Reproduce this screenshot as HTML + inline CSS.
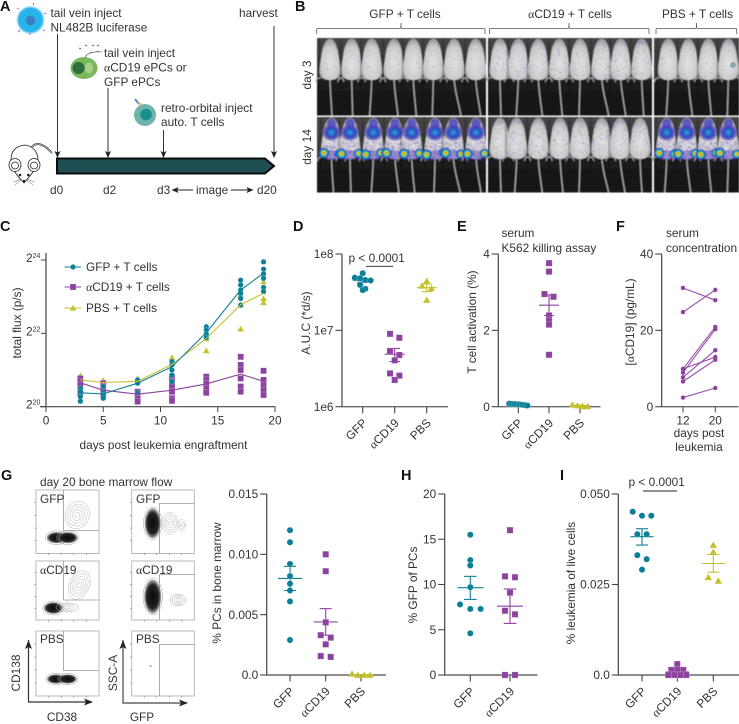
<!DOCTYPE html>
<html lang="en">
<head>
<meta charset="utf-8">
<title>Figure</title>
<style>
html,body{margin:0;padding:0;background:#fff;}
svg{display:block;}
text{font-family:"Liberation Sans","DejaVu Sans",sans-serif;font-size:11.85px;fill:#333;}
.pl{font-size:14.5px;font-weight:bold;fill:#111;}
.al{font-family:"Liberation Serif",serif;}
</style>
</head>
<body>
<svg id="fig" xmlns="http://www.w3.org/2000/svg" width="739" height="724" viewBox="0 0 739 724">
<defs>
<marker id="ah" markerWidth="7" markerHeight="7" refX="6" refY="3" orient="auto" markerUnits="userSpaceOnUse"><path d="M0,0 L7,3 L0,6 L1.5,3 Z" fill="#222"/></marker>
<radialGradient id="cellBlue"><stop offset="0" stop-color="#27b4ea"/><stop offset=".8" stop-color="#27b4ea"/><stop offset="1" stop-color="#27b4ea" stop-opacity="0"/></radialGradient>
<linearGradient id="bgRow" x1="0" y1="0" x2="0" y2="1"><stop offset="0" stop-color="#454545"/><stop offset=".52" stop-color="#363636"/><stop offset=".56" stop-color="#1c1c1c"/><stop offset="1" stop-color="#141414"/></linearGradient>
<radialGradient id="mouseFill" cx=".5" cy=".6" r=".65"><stop offset="0" stop-color="#e2e2e2"/><stop offset=".65" stop-color="#cbcbcb"/><stop offset="1" stop-color="#858585"/></radialGradient>
<radialGradient id="hot"><stop offset="0" stop-color="#e02020"/><stop offset=".18" stop-color="#e8b020"/><stop offset=".32" stop-color="#d8d820"/><stop offset=".48" stop-color="#35c878"/><stop offset=".64" stop-color="#1f8fd8"/><stop offset=".86" stop-color="#2a3fb8"/><stop offset="1" stop-color="#3a35b0" stop-opacity="0"/></radialGradient>
<radialGradient id="lung"><stop offset="0" stop-color="#33b4e0"/><stop offset=".22" stop-color="#2a78d0"/><stop offset=".6" stop-color="#3346b8"/><stop offset="1" stop-color="#6a50c0" stop-opacity=".5"/></radialGradient>
<radialGradient id="flowDark"><stop offset="0" stop-color="#0a0a0a"/><stop offset=".7" stop-color="#222"/><stop offset="1" stop-color="#888" stop-opacity=".7"/></radialGradient>
<filter id="soft" x="-2%" y="-2%" width="104%" height="104%"><feGaussianBlur stdDeviation=".5"/></filter>
</defs>

<!-- panel letters -->
<text class="pl" x="0" y="11">A</text>
<text class="pl" x="295" y="11">B</text>
<text class="pl" x="0" y="231">C</text>
<text class="pl" x="293" y="231">D</text>
<text class="pl" x="457" y="231">E</text>
<text class="pl" x="616" y="231">F</text>
<text class="pl" x="1" y="480">G</text>
<text class="pl" x="401" y="480">H</text>
<text class="pl" x="560" y="480">I</text>

<!-- Panel A -->
<g>
  <g>
    <circle cx="30.5" cy="20" r="14.5" fill="url(#cellBlue)"/>
    <circle cx="30.5" cy="20.5" r="4.8" fill="#3b80c4"/>
    <path d="M19,9l-2,-1M33,5l1,-2M44,14l2,-1M43,30l2,1M20,30l-2,2M30,33l0,2" stroke="#8a63b8" stroke-width=".9"/>
  </g>
  <text x="50.5" y="17">tail vein inject</text>
  <text x="50.5" y="31.5">NL482B luciferase</text>
  <text x="239" y="17">harvest</text>
  <g>
    <ellipse cx="84" cy="68" rx="13.5" ry="11" fill="#7ab65c"/>
    <circle cx="78.5" cy="68" r="6" fill="#2f6d3a"/>
    <ellipse cx="89" cy="68" rx="4" ry="5.5" fill="#a9d08b"/>
    <path d="M85,57c3,-4 8,-6 17,-5" fill="none" stroke="#333" stroke-width=".6"/>
    <path d="M79,48l2,1M85,46l2,-1M92,45l2,1M97,46l2,-1M90,53l2,-1M97,51l2,1" stroke="#6d62bd" stroke-width="1"/>
  </g>
  <text x="104" y="57">tail vein inject</text>
  <text x="104" y="71.5"><tspan class="al">α</tspan>CD19 ePCs or</text>
  <text x="104" y="86">GFP ePCs</text>
  <g>
    <circle cx="145" cy="115" r="11" fill="#6eb4ab"/>
    <circle cx="146" cy="114.5" r="5.8" fill="#1d8e8e"/>
    <path d="M135,99l4,5" stroke="#5b8fbd" stroke-width="2"/>
    <circle cx="140" cy="104" r="1.5" fill="#d8c66a"/>
  </g>
  <text x="161" y="112">retro-orbital inject</text>
  <text x="161" y="126">auto. T cells</text>
  <g stroke="#333" stroke-width="1" fill="none">
    <path d="M57.5,34V157" marker-end="url(#ah)"/>
    <path d="M108,88V157" marker-end="url(#ah)"/>
    <path d="M163.5,130V157" marker-end="url(#ah)"/>
    <path d="M274,26V157" marker-end="url(#ah)"/>
  </g>
  <path d="M57,158.5H265L274,166L265,173.5H57Z" fill="#1f4e52" stroke="#0d0d0d" stroke-width="2"/>
  <g stroke="#222" stroke-width=".8" fill="#fff">
    <path d="M32,147C37,141 45,145 52,153" fill="none" stroke-width="1.8"/>
    <path d="M32,147C37,141 45,145 52,153" fill="none" stroke="#fff" stroke-width=".6"/>
    <path d="M25,145C15,146 11,152 11,160C12,172 20,178 24,183C28,178 35,172 38,160C38,152 33,146 25,145Z"/>
    <ellipse cx="15" cy="165" rx="6" ry="6.5"/><ellipse cx="34" cy="165" rx="6" ry="6.5"/>
    <ellipse cx="15" cy="165.5" rx="3.5" ry="3.5"/><ellipse cx="34" cy="165.5" rx="3.5" ry="3.5"/>
    <circle cx="20" cy="175" r=".9" fill="#111"/><circle cx="28.3" cy="175" r=".9" fill="#111"/><circle cx="24" cy="181" r=".9" fill="#111"/>
    <path d="M21,179l-7,3M21,180l-6,5M27,179l7,3M27,180l6,5" fill="none" stroke-width=".4"/>
  </g>
  <text x="50" y="194">d0</text>
  <text x="103" y="194">d2</text>
  <text x="157" y="194">d3</text>
  <text x="196" y="194">image</text>
  <text x="257" y="194">d20</text>
  <path d="M193,190H172.5" stroke="#222" fill="none" marker-end="url(#ah)"/>
  <path d="M231,190H252.5" stroke="#222" fill="none" marker-end="url(#ah)"/>
</g>

<!-- Panel B headers -->
<g>
  <text x="405" y="18" text-anchor="middle">GFP + T cells</text>
  <text x="570" y="18" text-anchor="middle"><tspan class="al">α</tspan>CD19 + T cells</text>
  <text x="697.5" y="18" text-anchor="middle">PBS + T cells</text>
  <g fill="none" stroke="#555" stroke-width=".8">
    <path d="M316.7,34V29.5Q316.7,28.5 318,28.5H400Q401,28.5 401,23Q401,28.5 402,28.5H483.5Q485,28.5 485,29.5V34"/>
    <path d="M489.5,34V29.5Q489.5,28.5 491,28.5H568Q569,28.5 569,23Q569,28.5 570,28.5H648Q649,28.5 649,29.5V34"/>
    <path d="M656,34V29.5Q656,28.5 657,28.5H695.5Q696.5,28.5 696.5,23Q696.5,28.5 697.5,28.5H735.5Q736.7,28.5 736.7,29.5V34"/>
  </g>
  <text transform="translate(311,75) rotate(-90)" text-anchor="middle">day 3</text>
  <text transform="translate(311,147) rotate(-90)" text-anchor="middle">day 14</text>
</g>
<g id="photos"></g>

<!-- Panel C static -->
<g id="panelC">
  <text transform="translate(21,323) rotate(-90)" text-anchor="middle">total flux (p/s)</text>
  <text x="163.5" y="449" text-anchor="middle">days post leukemia engraftment</text>
</g>
<g id="panelD">
  <text transform="translate(310,323) rotate(-90)" text-anchor="middle">A.U.C (*d/s)</text>
  <text x="376.7" y="262" text-anchor="middle">p &lt; 0.0001</text>
  <line x1="366" x2="393" y1="266.3" y2="266.3" stroke="#222" stroke-width=".9"/>
</g>
<g id="panelE">
  <text transform="translate(476,322) rotate(-90)" text-anchor="middle">T cell activation (%)</text>
  <text x="501.5" y="237">serum</text>
  <text x="501.5" y="252">K562 killing assay</text>
</g>
<g id="panelF">
  <text transform="translate(634,322) rotate(-90)" text-anchor="middle">[<tspan class="al">α</tspan>CD19] (pg/mL)</text>
  <text x="666" y="237">serum</text>
  <text x="666" y="252">concentration</text>
  <text x="699" y="437" text-anchor="middle">days post</text>
  <text x="699" y="451" text-anchor="middle">leukemia</text>
</g>

<!-- Panel G flow -->
<g id="flow">
  <text x="40" y="486">day 20 bone marrow flow</text>
  <path d="M28.5,640V702H92" fill="none" stroke="#333" stroke-width="1.2"/>
  <path d="M28.5,640l-3.5,9l3.5,-2l3.5,2ZM93,702l-9,-3.5l2,3.5l-2,3.5Z" fill="#222"/>
  <path d="M123,640V703H187" fill="none" stroke="#444" stroke-width="1.2"/>
  <path d="M123,640l-3.5,9l3.5,-2l3.5,2ZM188,703l-9,-3.5l2,3.5l-2,3.5Z" fill="#222"/>
  <text transform="translate(20,673) rotate(-90)" text-anchor="middle">CD138</text>
  <text transform="translate(117,673) rotate(-90)" text-anchor="middle">SSC-A</text>
  <text x="62" y="721" text-anchor="middle">CD38</text>
  <text x="142" y="721" text-anchor="middle">GFP</text>
</g>
<g id="panelG">
  <text transform="translate(221,583) rotate(-90)" text-anchor="middle">% PCs in bone marrow</text>
</g>
<g id="panelH">
  <text transform="translate(417,585) rotate(-90)" text-anchor="middle">% GFP of PCs</text>
</g>
<g id="panelI">
  <text transform="translate(575,583) rotate(-90)" text-anchor="middle">% leukemia of live cells</text>
  <text x="656.7" y="486" text-anchor="middle">p &lt; 0.0001</text>
  <line x1="643" x2="677" y1="491" y2="491" stroke="#222" stroke-width=".9"/>
</g>
<g id="flowLabels">
  <text x="40" y="503">GFP</text>
  <text x="136" y="503">GFP</text>
  <text x="40" y="574"><tspan class="al">α</tspan>CD19</text>
  <text x="136" y="574"><tspan class="al">α</tspan>CD19</text>
  <text x="40" y="643">PBS</text>
  <text x="136" y="643">PBS</text>
</g>
</svg>

<script>
/* ===== Chart data ===== */
const dotCategories = ['GFP', 'αCD19', 'PBS'];

/* C: log2 total flux */
const cDays = [3, 5, 8, 11, 14, 17, 19];
const cXTicks = [0, 5, 10, 15, 20];
const cYTicks = [20, 22, 24];
const cGfpMean = [20.38, 20.35, 20.64, 21.09, 22.02, 23.18, 23.64];
const cCd19Mean = [20.65, 20.45, 20.34, 20.45, 20.62, 20.89, 20.69];
const cPbsMean = [20.73, 20.66, 20.69, 21.15, 21.86, 22.78, 23.09];
const cGfpPoints = [[20.5,20.41,20.27,20.15],[20.55,20.41,20.32,20.23],[20.73,20.64,20.38],[21.23,21.14,21.0,20.86,20.68],[22.18,22.09,21.98,21.88],[23.45,23.32,23.18,23.09,22.95,22.77],[23.95,23.75,23.62,23.5,23.25,23.14]];
const cCd19Points = [[20.77,20.68,20.59,20.45,20.38],[20.64,20.55,20.41,20.32],[20.41,20.32,20.23,20.14],[20.82,20.68,20.55,20.41,20.23,20.16],[20.82,20.73,20.64,20.5,20.38],[21.36,21.14,21.0,20.77,20.55,20.41],[20.98,20.73,20.59,20.45,20.32]];
const cPbsPoints = [[20.85],[20.72],[20.77],[21.34],[21.86,21.53],[23.05,22.77,22.12],[23.41,22.95,22.84]];

/* D: A.U.C */
const dTicks = [1e6, 1e7, 1e8];
const dTickLabels = ['1e6', '1e7', '1e8'];
const dGfp = [5.6e7, 4.9e7, 4.8e7, 4.57e7, 4.5e7, 3.93e7, 3.5e7, 3.37e7];
const dCd19 = [9.0e6, 8.0e6, 5.36e6, 4.75e6, 4.05e6, 2.73e6, 2.55e6, 2.24e6];
const dPbs = [4.43e7, 3.84e7, 3.55e7, 2.5e7];
const dMeans = [4.48e7, 4.85e6, 3.62e7];
const dLow = [4.26e7, 3.9e6, 3.21e7];
const dHigh = [4.71e7, 5.8e6, 4.05e7];

/* E: T cell activation */
const eTicks = [0, 2, 4];
const eGfp = [0.08, 0.07, 0.07, 0.06, 0.06, 0.05, 0.04, 0.03];
const eCd19 = [3.76, 3.54, 2.95, 2.88, 2.39, 2.25, 2.15, 1.36];
const ePbs = [0.05, 0.03, 0.01, 0.01];
const eMeans = [0.055, 2.66, 0.03];
const eLow = [0.045, 2.39, 0.015];
const eHigh = [0.065, 2.93, 0.045];

/* F: paired concentration */
const fTicks = [0, 20, 40];
const fDays = ['12', '20'];
const fDay12 = [31.1, 24.8, 9.9, 8.9, 9.9, 7.7, 6.6, 2.4];
const fDay20 = [27.9, 30.6, 20.9, 20.3, 13.0, 14.8, 12.3, 4.9];

/* G: % PCs */
const gTicks = [0, 0.005, 0.010, 0.015];
const gTickLabels = ['0.0', '0.005', '0.010', '0.015'];
const gGfp = [0.012, 0.011, 0.0092, 0.0082, 0.00757, 0.007, 0.0061, 0.0029];
const gCd19 = [0.01, 0.0086, 0.00436, 0.0033, 0.0031, 0.00254, 0.00157, 0.0015];
const gPbs = [0.0001, 0, 0, 0];
const gMeans = [0.008, 0.0044, 0];
const gLow = [0.007, 0.0033, 0];
const gHigh = [0.009, 0.0055, 0];

/* H: % GFP of PCs */
const hTicks = [0, 5, 10, 15, 20];
const hGfp = [15.5, 12.7, 12.1, 9.7, 7.8, 7.3, 7.3, 4.6];
const hCd19 = [16, 10.9, 10.8, 9.1, 7.1, 6.7, 0, 0];
const hMeans = [9.65, 7.6];
const hLow = [8.35, 5.7];
const hHigh = [10.9, 9.5];

/* I: % leukemia */
const iTicks = [0, 0.025, 0.05];
const iTickLabels = ['0.0', '0.025', '0.050'];
const iGfp = [0.0451, 0.044, 0.044, 0.0389, 0.0389, 0.0331, 0.032, 0.0291];
const iCd19 = [0.003, 0.0014, 0.0014, 0.0014, 0, 0, 0, 0];
const iPbs = [0.0359, 0.034, 0.027, 0.026];
const iMeans = [0.0382, 0.0009, 0.0308];
const iLow = [0.0359, 0.0004, 0.0284];
const iHigh = [0.0404, 0.0014, 0.0333];

/* ===== Helpers ===== */
const NS = 'http://www.w3.org/2000/svg';
const TEAL = '#0b7f97', PURPLE = '#8e42a0', OLIVE = '#c3c12e';
const AXIS = '#6a6a6a';

function mk(parent, tag, attrs, name) {
  const el = document.createElementNS(NS, tag);
  for (const k in attrs) el.setAttribute(k, attrs[k]);
  
  
  parent.appendChild(el);
  return el;
}
function setLabel(node, label) {
  if (label.charAt(0) === 'α') {
    const t = document.createElementNS(NS, 'tspan');
    t.setAttribute('class', 'al');
    t.textContent = 'α';
    node.appendChild(t);
    node.appendChild(document.createTextNode(label.slice(1)));
  } else node.textContent = label;
}
const linear = (d0, d1, r0, r1) => v => r0 + (v - d0) / (d1 - d0) * (r1 - r0);
const log10Scale = (d0, d1, r0, r1) => v => r0 + (Math.log10(v) - Math.log10(d0)) / (Math.log10(d1) - Math.log10(d0)) * (r1 - r0);

function marker(g, shape, x, y, s, color, name) {
  if (shape === 'circle') return mk(g, 'circle', {cx: x, cy: y, r: s, fill: color, stroke: '#fff', 'stroke-opacity': .4, 'stroke-width': .5}, name);
  if (shape === 'square') return mk(g, 'rect', {x: x - s, y: y - s, width: 2 * s, height: 2 * s, fill: color, stroke: '#fff', 'stroke-opacity': .4, 'stroke-width': .5}, name);
  const p = [[x, y - s * 1.1], [x + s * 1.15, y + s * .9], [x - s * 1.15, y + s * .9]].map(a => a.join(',')).join(' ');
  return mk(g, 'polygon', {points: p, fill: color}, name);
}

/* swarm: sort by pixel value, bin, spread horizontally around the category */
function swarm(values, yScale, bin, step) {
  const pts = values.map(v => yScale(v)).sort((a, b) => a - b);
  const out = [];
  let i = 0;
  while (i < pts.length) {
    let j = i;
    while (j < pts.length && pts[j] - pts[i] < bin) j++;
    const n = j - i;
    for (let k = 0; k < n; k++) out.push({y: pts[i + k], dx: (k - (n - 1) / 2) * step});
    i = j;
  }
  return out;
}

function axes(g, cfg) {
  mk(g, 'line', {x1: cfg.x0, x2: cfg.x0, y1: cfg.yTop, y2: cfg.yBase, stroke: '#444', 'stroke-width': 1.2}, 'y-axis-line');
  mk(g, 'line', {x1: cfg.x0 - .5, x2: cfg.x1, y1: cfg.yBase, y2: cfg.yBase, stroke: AXIS, 'stroke-width': 1.4}, 'x-axis-line');
  cfg.yTicks.forEach((t, i) => {
    const y = cfg.yScale(t);
    mk(g, 'line', {x1: cfg.x0 - 6.5, x2: cfg.x0, y1: y, y2: y, stroke: '#444', 'stroke-width': 1.1}, 'y-tick');
    const lab = mk(g, 'text', {x: cfg.x0 - 8.5, y: y + 4.2, 'text-anchor': 'end'}, 'y-tick-label');
    lab.textContent = cfg.yLabels ? cfg.yLabels[i] : String(t);
  });
}
function catTicks(g, cfg) {
  cfg.cats.forEach((c, i) => {
    const x = cfg.catX[i];
    mk(g, 'line', {x1: x, x2: x, y1: cfg.yBase, y2: cfg.yBase + 6.5, stroke: '#444', 'stroke-width': 1.1}, 'x-tick');
    const lab = mk(g, 'text', {x: x + 5, y: cfg.yBase + 17, 'text-anchor': 'end', transform: 'rotate(-45 ' + (x + 5) + ' ' + (cfg.yBase + 17) + ')'}, 'x-tick-label');
    setLabel(lab, c);
  });
}
function errorBar(g, x, yMean, yLo, yHi, color, hm, hc) {
  mk(g, 'line', {x1: x, x2: x, y1: yHi, y2: yLo, stroke: color, 'stroke-width': 1.1}, 'error-bar');
  mk(g, 'line', {x1: x - hc, x2: x + hc, y1: yHi, y2: yHi, stroke: color, 'stroke-width': 1.1}, 'error-cap-high');
  mk(g, 'line', {x1: x - hc, x2: x + hc, y1: yLo, y2: yLo, stroke: color, 'stroke-width': 1.1}, 'error-cap-low');
  mk(g, 'line', {x1: x - hm, x2: x + hm, y1: yMean, y2: yMean, stroke: color, 'stroke-width': 1.1}, 'mean-line');
}
const SERIES_STYLE = [{shape: 'circle', color: TEAL, size: 3.1}, {shape: 'square', color: PURPLE, size: 3.1}, {shape: 'triangle', color: OLIVE, size: 3.2}];

function dotPanel(g, cfg) {
  axes(g, cfg);
  catTicks(g, cfg);
  cfg.series.forEach((vals, i) => {
    const st = SERIES_STYLE[i];
    const x = cfg.catX[i];
    errorBar(g, x, cfg.yScale(cfg.means[i]), cfg.yScale(cfg.low[i]), cfg.yScale(cfg.high[i]), st.color, cfg.meanHalf, cfg.capHalf);
    swarm(vals, cfg.yScale, cfg.bins[i], cfg.steps[i]).forEach(p => {
      marker(g, st.shape, x + p.dx, p.y, st.size, st.color, 'point-' + cfg.cats[i].replace('α', 'a').toLowerCase());
    });
  });
}

/* ===== Panel C ===== */
(function () {
  const g = document.getElementById('panelC');
  const x = linear(0, 20, 46, 275), y = linear(20, 24, 406.7, 260);
  mk(g, 'line', {x1: 46, x2: 46, y1: 253, y2: 407, stroke: '#444', 'stroke-width': 1.2}, 'y-axis-line');
  mk(g, 'line', {x1: 40, x2: 275.5, y1: 406.7, y2: 406.7, stroke: '#444', 'stroke-width': 1.2}, 'x-axis-line');
  cXTicks.forEach(t => {
    mk(g, 'line', {x1: x(t), x2: x(t), y1: 406.7, y2: 412, stroke: '#444', 'stroke-width': 1}, 'x-tick');
    const l = mk(g, 'text', {x: x(t), y: 424.5, 'text-anchor': 'middle'}, 'x-tick-label');
    l.textContent = t;
  });
  cYTicks.forEach(t => {
    mk(g, 'line', {x1: 41, x2: 46, y1: y(t), y2: y(t), stroke: '#444', 'stroke-width': 1}, 'y-tick');
    const l = mk(g, 'text', {x: 26, y: y(t) + 2, 'text-anchor': 'start'}, 'y-tick-label');
    l.appendChild(document.createTextNode('2'));
    const s = document.createElementNS(NS, 'tspan');
    s.setAttribute('dy', '-4');
    s.style.fontSize = '7px';
    s.textContent = t;
    l.appendChild(s);
  });
  const sets = [
    {name: 'pbs', mean: cPbsMean, pts: cPbsPoints, c: OLIVE, shape: 'triangle', size: 2.9},
    {name: 'cd19', mean: cCd19Mean, pts: cCd19Points, c: PURPLE, shape: 'square', size: 3},
    {name: 'gfp', mean: cGfpMean, pts: cGfpPoints, c: TEAL, shape: 'circle', size: 2.7}
  ];
  sets.forEach(s => {
    const sg = mk(g, 'g', {}, 'series-' + s.name);
    s.pts.forEach((col, i) => col.forEach(v => marker(sg, s.shape, x(cDays[i]), y(v), s.size, s.c, 'point-' + s.name)));
  });
  sets.forEach(s => {
    mk(g, 'polyline', {points: s.mean.map((v, i) => x(cDays[i]) + ',' + y(v)).join(' '), fill: 'none', stroke: s.c, 'stroke-width': 1.1}, 'mean-line-' + s.name);
  });
  const legend = [
    {label: 'GFP + T cells', c: TEAL, shape: 'circle', yy: 267, size: 2.7},
    {label: 'αCD19 + T cells', c: PURPLE, shape: 'square', yy: 287, size: 3},
    {label: 'PBS + T cells', c: OLIVE, shape: 'triangle', yy: 308, size: 2.9}
  ];
  legend.forEach(e => {
    const lg = mk(g, 'g', {}, 'legend-entry');
    mk(lg, 'line', {x1: 64.5, x2: 81, y1: e.yy, y2: e.yy, stroke: e.c, 'stroke-width': 1.1}, 'legend-line');
    marker(lg, e.shape, 73, e.yy, e.size, e.c, 'legend-marker');
    const t = mk(lg, 'text', {x: 86, y: e.yy + 4}, 'legend-label');
    setLabel(t, e.label);
  });
})();

/* ===== Panels D, E, G, H, I ===== */
dotPanel(document.getElementById('panelD'), {
  x0: 342, x1: 448, yTop: 254, yBase: 406.7, yScale: log10Scale(1e6, 1e8, 406.7, 254),
  yTicks: dTicks, yLabels: dTickLabels, cats: dotCategories, catX: [362.7, 394.7, 426.7],
  series: [dGfp, dCd19, dPbs], means: dMeans, low: dLow, high: dHigh,
  bins: [4.2, 4.2, 3.2], steps: [5.3, 9.3, 9.3], meanHalf: 10, capHalf: 5.3
});
dotPanel(document.getElementById('panelE'), {
  x0: 498.3, x1: 600.5, yTop: 254, yBase: 406.7, yScale: linear(0, 4, 406.7, 254),
  yTicks: eTicks, cats: dotCategories, catX: [518.3, 549, 580],
  series: [eGfp, eCd19, ePbs], means: eMeans, low: eLow, high: eHigh,
  bins: [5, 3.6, 5], steps: [2.6, 9, 5], meanHalf: 10, capHalf: 5
});
dotPanel(document.getElementById('panelG'), {
  x0: 266.7, x1: 386, yTop: 494, yBase: 675, yScale: linear(0, 0.015, 675, 494),
  yTicks: gTicks, yLabels: gTickLabels, cats: dotCategories, catX: [290, 325.7, 361],
  series: [gGfp, gCd19, gPbs], means: gMeans, low: gLow, high: gHigh,
  bins: [2, 2.5, 3], steps: [10, 10, 6], meanHalf: 12, capHalf: 6
});
dotPanel(document.getElementById('panelH'), {
  x0: 444.7, x1: 537.5, yTop: 494, yBase: 675, yScale: linear(0, 20, 675, 494),
  yTicks: hTicks, cats: dotCategories.slice(0, 2), catX: [470.3, 510],
  series: [hGfp, hCd19], means: hMeans, low: hLow, high: hHigh,
  bins: [5, 5], steps: [10.3, 10], meanHalf: 13, capHalf: 6.3
});
dotPanel(document.getElementById('panelI'), {
  x0: 618.3, x1: 739, yTop: 494, yBase: 675, yScale: linear(0, 0.05, 675, 494),
  yTicks: iTicks, yLabels: iTickLabels, cats: dotCategories, catX: [642, 677.3, 713.3],
  series: [iGfp, iCd19, iPbs], means: iMeans, low: iLow, high: iHigh,
  bins: [4.5, 2, 4.5], steps: [9.3, 6, 10], meanHalf: 11.5, capHalf: 6
});

/* ===== Panel F ===== */
(function () {
  const g = document.getElementById('panelF');
  const y = linear(0, 40, 406.7, 254);
  const xs = [683, 715.3];
  axes(g, {x0: 661.7, x1: 738.5, yTop: 254, yBase: 406.7, yScale: y, yTicks: fTicks});
  fDays.forEach((d, i) => {
    mk(g, 'line', {x1: xs[i], x2: xs[i], y1: 406.7, y2: 412.5, stroke: '#444', 'stroke-width': 1}, 'x-tick');
    const l = mk(g, 'text', {x: xs[i], y: 424.5, 'text-anchor': 'middle'}, 'x-tick-label');
    l.textContent = d;
  });
  fDay12.forEach((v, i) => {
    const pair = mk(g, 'g', {}, 'paired-mouse');
    mk(pair, 'line', {x1: xs[0], x2: xs[1], y1: y(v), y2: y(fDay20[i]), stroke: '#9a50ae', 'stroke-width': 1.1}, 'pair-line');
    mk(pair, 'circle', {cx: xs[0], cy: y(v), r: 2.2, fill: PURPLE}, 'point-day-12');
    mk(pair, 'circle', {cx: xs[1], cy: y(fDay20[i]), r: 2.2, fill: PURPLE}, 'point-day-20');
  });
})();

/* ===== Panel B: mouse images (photographic texture, not chart data) ===== */
(function () {
  const root = document.getElementById('photos');
  root.setAttribute('filter', 'url(#soft)');
  const panels = [[317, 486], [488, 652], [654, 739]];
  const rows = [[38, 115.5, 0], [117, 192.5, 1]];
  const xsDay3 = [[330, 351.7, 371.7, 394, 413.3, 433.3, 454, 475.7], [500, 518.3, 538.3, 559.3, 580, 601.7, 620.7, 641.7], [668.3, 688.3, 708.3, 728.3]];
  const xsDay14 = [[331.5, 350, 373.3, 395, 411.7, 435, 453.3, 476], [500, 516.7, 538.3, 560, 580, 601.7, 620, 640], [666.7, 686.7, 708.3, 728.3]];
  const tailDrift = [2, 1, -2, 4, 3, -1, 7, 5];
  let seed = 12345;
  const rnd = () => (seed = (seed * 1103515245 + 12345) & 0x7fffffff) / 0x7fffffff;
  const speck = (cx, top, n, y0, y1, sz) => {
    let d = '';
    for (let i = 0; i < n; i++) {
      const yy = top + y0 + rnd() * (y1 - y0);
      const prog = (yy - top) / 42;
      const w = Math.min(4.5 + prog * 20, 9.5);
      const xx = cx + (rnd() * 2 - 1) * w;
      d += 'M' + xx.toFixed(1) + ',' + yy.toFixed(1) + 'h' + sz + 'v' + sz + 'h-' + sz + 'z';
    }
    return d;
  };
  rows.forEach((row, ri) => {
    const rowG = mk(root, 'g', {}, ri === 0 ? 'image-row-day-3' : 'image-row-day-14');
    panels.forEach((p, pi) => {
      const pg = mk(rowG, 'g', {}, 'image-panel');
      mk(pg, 'rect', {x: p[0], y: row[0], width: p[1] - p[0], height: row[1] - row[0], fill: 'url(#bgRow)'}, 'image-background');
      const xs = (ri === 0 ? xsDay3 : xsDay14)[pi];
      xs.forEach((cx, mi) => {
        const top = row[0] + 1;
        const m = mk(pg, 'g', {}, 'mouse-image');
        mk(m, 'rect', {x: cx - 11.5, y: row[0], width: 1.5, height: row[1] - row[0], fill: '#111', opacity: .3}, 'image-seam');
        const dr = tailDrift[(mi + pi) % 8];
        mk(m, 'path', {d: 'M' + cx + ',' + (top + 40) + 'C' + (cx + dr * .2) + ',' + (top + 55) + ' ' + (cx + dr * .6) + ',' + (top + 62) + ' ' + (cx + dr) + ',' + row[1], fill: 'none', stroke: '#a5a5a5', 'stroke-width': 1.4}, 'mouse-tail');
        mk(m, 'path', {d: 'M' + (cx - 8) + ',' + (top + 38) + 'l-5,2l-1,3M' + (cx + 8) + ',' + (top + 38) + 'l5,2l1,3', fill: 'none', stroke: '#9b9b9b', 'stroke-width': 1.2}, 'mouse-feet');
        const body = 'M' + (cx - 4) + ',' + (top + 2) + 'C' + (cx - 2) + ',' + (top - 1) + ' ' + (cx + 2) + ',' + (top - 1) + ' ' + (cx + 4) + ',' + (top + 2)
          + 'C' + (cx + 6.5) + ',' + (top + 6) + ' ' + (cx + 7.8) + ',' + (top + 10) + ' ' + (cx + 8.3) + ',' + (top + 15)
          + 'C' + (cx + 9.2) + ',' + (top + 22) + ' ' + (cx + 10.5) + ',' + (top + 27) + ' ' + (cx + 10.5) + ',' + (top + 33)
          + 'C' + (cx + 10.5) + ',' + (top + 38) + ' ' + (cx + 6) + ',' + (top + 41) + ' ' + cx + ',' + (top + 41)
          + 'C' + (cx - 6) + ',' + (top + 41) + ' ' + (cx - 10.5) + ',' + (top + 38) + ' ' + (cx - 10.5) + ',' + (top + 33)
          + 'C' + (cx - 10.5) + ',' + (top + 27) + ' ' + (cx - 9.2) + ',' + (top + 22) + ' ' + (cx - 8.3) + ',' + (top + 15)
          + 'C' + (cx - 7.8) + ',' + (top + 10) + ' ' + (cx - 6.5) + ',' + (top + 6) + ' ' + (cx - 4) + ',' + (top + 2) + 'Z';
        mk(m, 'path', {d: body, fill: 'url(#mouseFill)'}, 'mouse-body');
        const heat = ri === 1 && pi !== 1;
        if (heat) {
          mk(m, 'ellipse', {cx: cx, cy: top + 6, rx: 4.6, ry: 5.5, fill: '#5148bd', opacity: .85}, 'signal-head');
          mk(m, 'ellipse', {cx: cx, cy: top + 14.5, rx: 9.2, ry: 8.4, fill: 'url(#lung)'}, 'signal-chest');
          mk(m, 'path', {d: speck(cx, top, 55, 23, 33, .9), fill: '#6a55c4', opacity: .8}, 'signal-speckle');
          mk(m, 'ellipse', {cx: cx, cy: top + 37, rx: 8.6, ry: 4.8, fill: '#6a52c2', opacity: .55}, 'signal-pelvis');
          mk(m, 'path', {d: speck(cx, top, 35, 32, 42, .9), fill: '#4a3db5', opacity: .85}, 'signal-pelvis-speckle');
          const sp = 7.5 + (mi % 2);
          mk(m, 'circle', {cx: cx - sp, cy: top + 35 + (mi % 3) * .8, r: 5.6, fill: 'url(#hot)'}, 'signal-left-leg');
          mk(m, 'circle', {cx: cx + sp, cy: top + 36 - (mi % 3) * .6, r: 5, fill: 'url(#hot)'}, 'signal-right-leg');
        } else {
          const n = ri === 1 ? 55 : (pi === 1 ? 38 : 12);
          mk(m, 'path', {d: speck(cx, top, n, 1, 40, .8), fill: '#5f54c8', opacity: .8}, 'signal-speckle');
        }
      });
    });
  });
  mk(root, 'circle', {cx: 733, cy: 65, r: 2.6, fill: 'url(#hot)'}, 'pbs-day-3-signal');
})();

/* ===== Panel G flow frames (schematic contours) ===== */
(function () {
  const g = document.getElementById('flow');
  const frames = [
    {x: 36, y: 490, w: 63, h: 63.5, gate: 'M63.5,490V530.5H99'},
    {x: 131.7, y: 490, w: 62.6, h: 63.5, gate: 'M159.5,553.5V503.5H194.3'},
    {x: 36, y: 561, w: 63, h: 59, gate: 'M63.5,561V600H99'},
    {x: 131.7, y: 561, w: 62.6, h: 59, gate: 'M159.5,620V574.5H194.3'},
    {x: 36, y: 631, w: 63, h: 65, gate: 'M63.5,631V670.5H99'},
    {x: 131.7, y: 631, w: 62.6, h: 65, gate: 'M159.5,696V644.5H194.3'}
  ];
  frames.forEach(f => {
    mk(g, 'rect', {x: f.x, y: f.y, width: f.w, height: f.h, fill: 'none', stroke: '#aaa', 'stroke-width': .8}, 'flow-frame');
    mk(g, 'path', {d: f.gate, fill: 'none', stroke: '#999', 'stroke-width': .8}, 'flow-gate');
    let ticks = '';
    for (let i = 1; i < 5; i++) {
      ticks += 'M' + (f.x + i * f.w / 5) + ',' + (f.y + f.h) + 'v1.5';
      ticks += 'M' + (f.x - 1.5) + ',' + (f.y + i * f.h / 5) + 'h1.5';
    }
    mk(g, 'path', {d: ticks, stroke: '#555', 'stroke-width': .5, fill: 'none'}, 'flow-ticks');
  });
  const contour = (cx, cy, rx, ry, n, color, rot) => {
    const cg = mk(g, 'g', rot ? {transform: 'rotate(' + rot + ' ' + cx + ' ' + cy + ')'} : {}, 'flow-contour');
    for (let i = 0; i < n; i++) {
      const f = 1 - i / n;
      mk(cg, 'ellipse', {cx: cx, cy: cy, rx: rx * f, ry: ry * f, fill: 'none', stroke: color, 'stroke-width': .5}, 'contour-ring');
    }
  };
  const dark = (cx, cy, rx, ry) => {
    mk(g, 'ellipse', {cx: cx, cy: cy, rx: rx + 1.2, ry: ry + 1.2, fill: 'none', stroke: '#999', 'stroke-width': .5}, 'flow-outer-contour');
    mk(g, 'ellipse', {cx: cx, cy: cy, rx: rx, ry: ry, fill: 'url(#flowDark)'}, 'flow-dense-population');
  };
  dark(56.7, 537.7, 10, 5.6); dark(67.7, 537.7, 10, 5.6);
  contour(77.3, 515, 12, 14, 5, '#bbb', 20);
  dark(53.3, 608, 9.5, 5.8);
  contour(67, 607.5, 11, 4.5, 3, '#aaa');
  contour(79.3, 585, 10, 15, 5, '#bbb', 25);
  dark(56, 679, 9, 4.6); dark(67.7, 679, 9, 4.6);
  dark(152.7, 523.3, 8, 15);
  contour(170, 523.3, 8, 11, 5, '#bbb');
  contour(181.7, 525, 4, 5.5, 3, '#bbb');
  dark(152.7, 596.7, 8.5, 17);
  contour(178.3, 600, 8, 6, 4, '#aaa');
  mk(g, 'circle', {cx: 150.7, cy: 666, r: .9, fill: '#888'}, 'flow-single-event');
})();
</script>
</body>
</html>
